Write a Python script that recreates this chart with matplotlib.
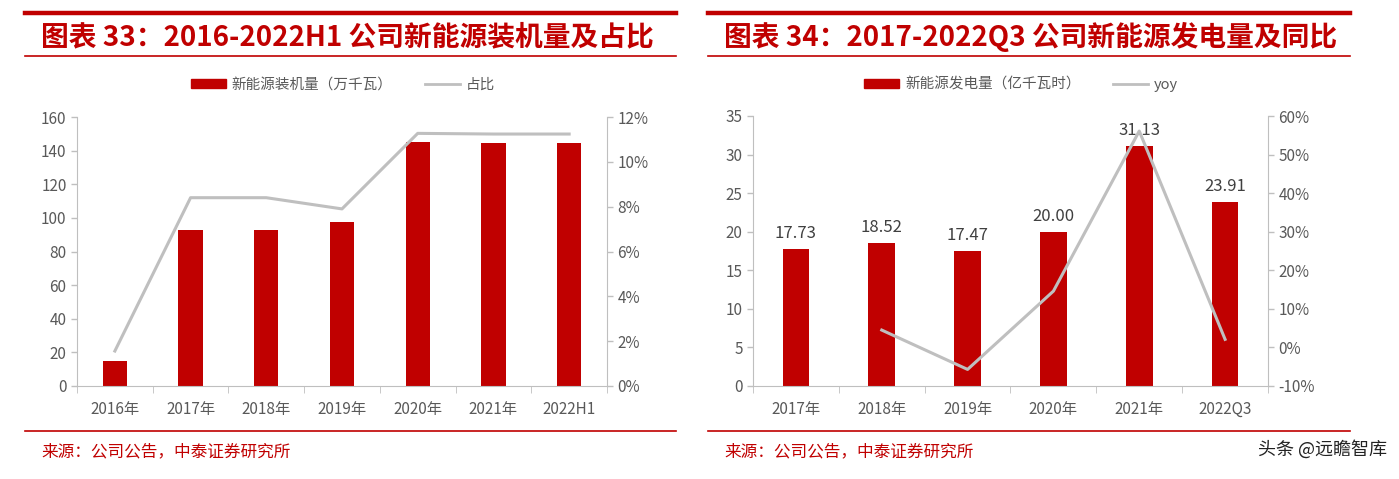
import matplotlib
matplotlib.use('Agg')
import matplotlib.pyplot as plt
from matplotlib.lines import Line2D
from matplotlib.patches import Patch
import numpy as np

plt.rcParams['font.family'] = ['Noto Sans CJK SC', 'DejaVu Sans']
plt.rcParams['axes.unicode_minus'] = False

RED = '#C00000'
GREY_LINE = '#BFBFBF'
AXIS = '#BFBFBF'
TXT = '#595959'
W, H = 1399, 479

# 图表33 数据
cap_years = ['2016年', '2017年', '2018年', '2019年', '2020年', '2021年', '2022H1']
cap_values = [15, 92.6, 92.6, 97.3, 145, 144.5, 144.5]
cap_share = [1.56, 8.4, 8.4, 7.9, 11.27, 11.24, 11.24]

# 图表34 数据
gen_years = ['2017年', '2018年', '2019年', '2020年', '2021年', '2022Q3']
gen_values = [17.73, 18.52, 17.47, 20.00, 31.13, 23.91]
gen_yoy = [np.nan, 4.5, -5.7, 14.6, 56.1, 2.1]


def px(x0, y0, x1, y1):
    return [x0 / W, 1 - y1 / H, (x1 - x0) / W, (y1 - y0) / H]


def style_axes(ax, ax2, n):
    for a in (ax, ax2):
        for s in a.spines.values():
            s.set_color(AXIS)
        a.spines['top'].set_visible(False)
        a.tick_params(colors=AXIS, labelcolor=TXT, labelsize=11, width=1, length=4)
    ax.spines['right'].set_visible(False)
    ax2.spines['left'].set_visible(False)
    ax2.spines['bottom'].set_visible(False)
    ax.set_xlim(-0.5, n - 0.5)
    ax.set_xticks(np.arange(-0.5, n, 1), minor=True)
    ax.tick_params(axis='x', which='major', length=0, pad=11)
    ax.tick_params(axis='x', which='minor', length=5, color=AXIS)


def header(x0, x1, title, legend_x, labels):
    fig.add_artist(Line2D([x0 / W, x1 / W], [1 - 13 / H] * 2, color=RED, lw=3.2))
    fig.add_artist(Line2D([x0 / W, x1 / W], [1 - 56 / H] * 2, color=RED, lw=1.2))
    fig.text((x0 + 16) / W, 1 - 37 / H, title, color=RED, fontsize=20,
             fontweight='bold', va='center', ha='left')
    fig.add_artist(Line2D([x0 / W, x1 / W], [1 - 431 / H] * 2, color=RED, lw=1.2))
    fig.text((x0 + 16) / W, 1 - 452 / H, '来源：公司公告，中泰证券研究所', color=RED,
             fontsize=12, va='center', ha='left')
    handles = [Patch(color=RED), Line2D([], [], color=GREY_LINE, lw=2)]
    fig.legend(handles, labels, loc='center', bbox_to_anchor=(legend_x / W, 1 - 85 / H),
               ncol=2, frameon=False, labelcolor=TXT,
               handlelength=2.4, handleheight=0.6, columnspacing=2.2, handletextpad=0.4,
               prop={'size': 10.5})


fig = plt.figure(figsize=(W / 100, H / 100), dpi=100)

# 左图：装机量 + 占比
ax = fig.add_axes(px(77, 117, 607, 386))
x = np.arange(len(cap_years))
ax.bar(x, cap_values, width=0.32, color=RED, zorder=2)
ax.set_ylim(0, 160)
ax.set_yticks(np.arange(0, 161, 20))
ax.set_xticks(x)
ax.set_xticklabels(cap_years)
axr = ax.twinx()
axr.plot(x, cap_share, color=GREY_LINE, lw=2.2, zorder=3)
axr.set_ylim(0, 12)
axr.set_yticks(np.arange(0, 13, 2))
axr.set_yticklabels([f'{v}%' for v in range(0, 13, 2)])
style_axes(ax, axr, len(cap_years))
header(25, 676, '图表 33：2016-2022H1 公司新能源装机量及占比', 343,
       ['新能源装机量（万千瓦）', '占比'])

# 右图：发电量 + 同比
bx = fig.add_axes(px(753, 116, 1268, 386))
x2 = np.arange(len(gen_years))
bx.bar(x2, gen_values, width=0.31, color=RED, zorder=2)
for xi, v in zip(x2, gen_values):
    bx.annotate(f'{v:.2f}', (xi, v), xytext=(0, 5), textcoords='offset points',
                ha='center', va='bottom', fontsize=12, color='#404040')
bx.set_ylim(0, 35)
bx.set_yticks(np.arange(0, 36, 5))
bx.set_xticks(x2)
bx.set_xticklabels(gen_years)
bxr = bx.twinx()
bxr.plot(x2, gen_yoy, color=GREY_LINE, lw=2.2, zorder=3)
bxr.set_ylim(-10, 60)
bxr.set_yticks(np.arange(-10, 61, 10))
bxr.set_yticklabels([f'{v}%' for v in range(-10, 61, 10)])
style_axes(bx, bxr, len(gen_years))
header(708, 1350, '图表 34：2017-2022Q3 公司新能源发电量及同比', 1021,
       ['新能源发电量（亿千瓦时）', 'yoy'])

fig.text(1258 / W, 1 - 449 / H, '头条 @远瞻智库', fontsize=13, color='#222222',
         va='center', ha='left',
         bbox=dict(facecolor='white', edgecolor='none', pad=4))

fig.savefig('out.png', dpi=100)
